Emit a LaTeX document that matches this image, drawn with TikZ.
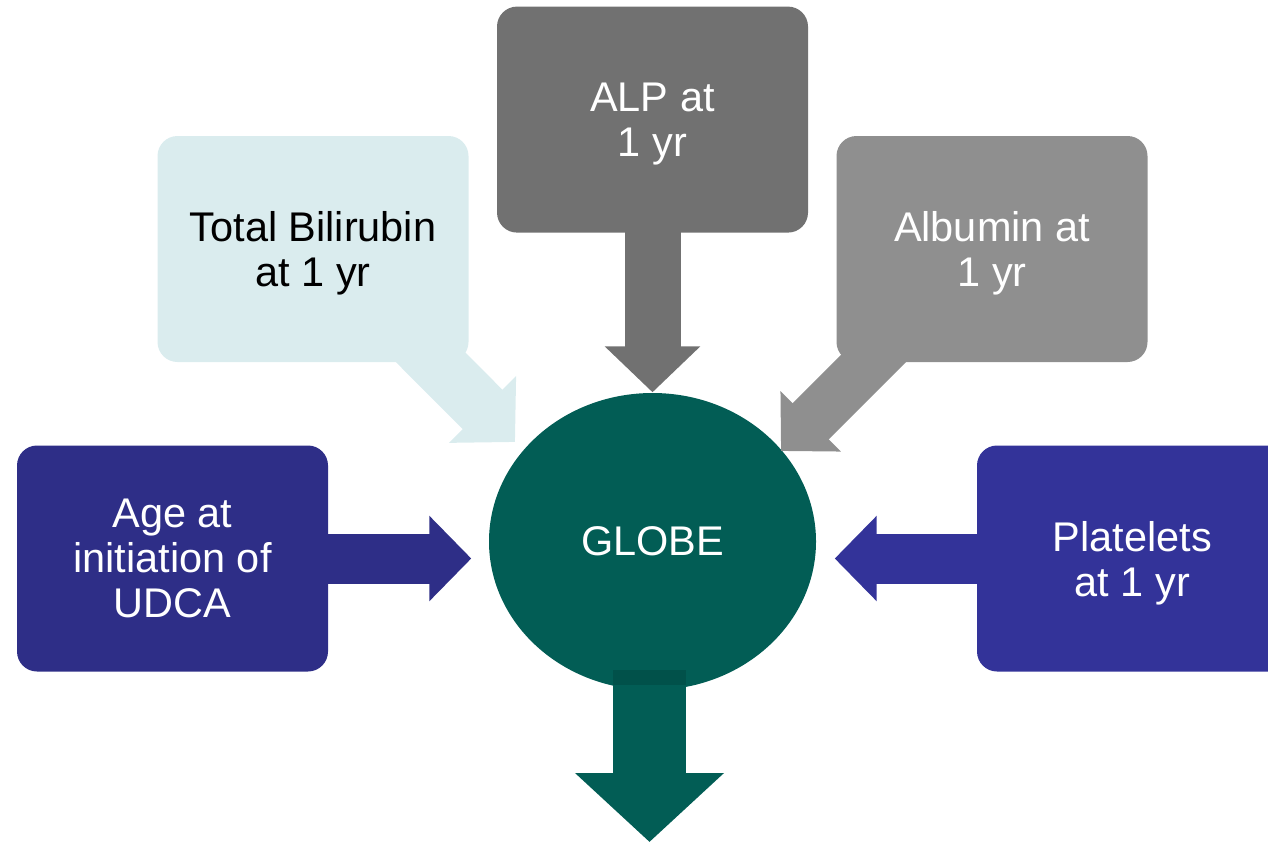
\documentclass[tikz,border=0pt]{standalone}
\usepackage{fontspec}
\setmainfont{Liberation Sans}
\usetikzlibrary{positioning,arrows.meta,shapes.geometric}
\definecolor{navyA}{HTML}{2E2E87}
\definecolor{navyB}{HTML}{333399}
\definecolor{globeteal}{HTML}{025D55}
\definecolor{globedark}{HTML}{01514A}
\definecolor{grayA}{HTML}{717171}
\definecolor{grayB}{HTML}{8F8F8F}
\definecolor{paleblue}{HTML}{DAECEE}
\tikzset{%
box/.style={rectangle,rounded corners=0.2cm,minimum width=3.11cm,minimum height=2.26cm,inner sep=0pt,text depth=0pt,align=center,text=white,font=\fontsize{11.8}{12.8}\selectfont},
globe/.style={ellipse,minimum width=3.27cm,minimum height=2.97cm,inner sep=0pt,fill=globeteal,text=white,font=\fontsize{11.8}{12.8}\selectfont},
fat/.style n args={3}{line width=#1,-{Triangle[width=#2,length=#3]}}
}
\begin{document}
\begin{tikzpicture}
    \useasboundingbox (0,0) rectangle (12.68,8.42);

    \node[globe] (globe) at (6.525,3.005) {GLOBE};

    \node[box,fill=navyA] (age) at (1.725,2.835) {Age at\\initiation of\\UDCA};
    \node[box,fill=navyB] (plat) at (11.325,2.835) {Platelets\\at 1 yr};
    \node[box,fill=grayA] (alp) [above=1.59cm of globe] {ALP at\\1 yr};
    \node[box,fill=paleblue,text=black] (bili) at (3.13,5.93) {Total Bilirubin\\at 1 yr};
    \node[box,fill=grayB] (alb) at (9.92,5.93) {Albumin at\\1 yr};

    \coordinate (bilistart) at (3.80,5.355);
    \coordinate (bilitip) at (5.15,4.00);
    \coordinate (albstart) at (9.20,5.30);
    \coordinate (albtip) at (7.81,3.91);
    \coordinate (outtop) at (6.495,1.72);
    \coordinate (outcome) at (6.495,0);

    \path[draw=navyA,fat={0.50cm}{0.83cm}{0.42cm},shorten >=0.17cm] ([xshift=-2pt]age.east) -- (age.east -| globe.west);
    \path[draw=navyB,fat={0.50cm}{0.83cm}{0.42cm},shorten >=0.18cm] ([xshift=2pt]plat.west) -- (plat.west -| globe.east);
    \path[draw=grayA,fat={0.56cm}{0.93cm}{0.46cm}] ([yshift=2pt]alp.south) -- (globe.north);
    \path[draw=paleblue,fat={0.56cm}{0.92cm}{0.46cm}] (bilistart) -- (bilitip);
    \path[draw=grayB,fat={0.51cm}{0.83cm}{0.42cm}] (albstart) -- (albtip);
    \path[draw=globeteal,fat={0.73cm}{1.45cm}{0.69cm}] (outtop) -- (outcome);
    \fill[globedark] ([xshift=-0.365cm]outtop) rectangle ([xshift=0.365cm,yshift=-0.15cm]outtop);

  \end{tikzpicture}
\end{document}
